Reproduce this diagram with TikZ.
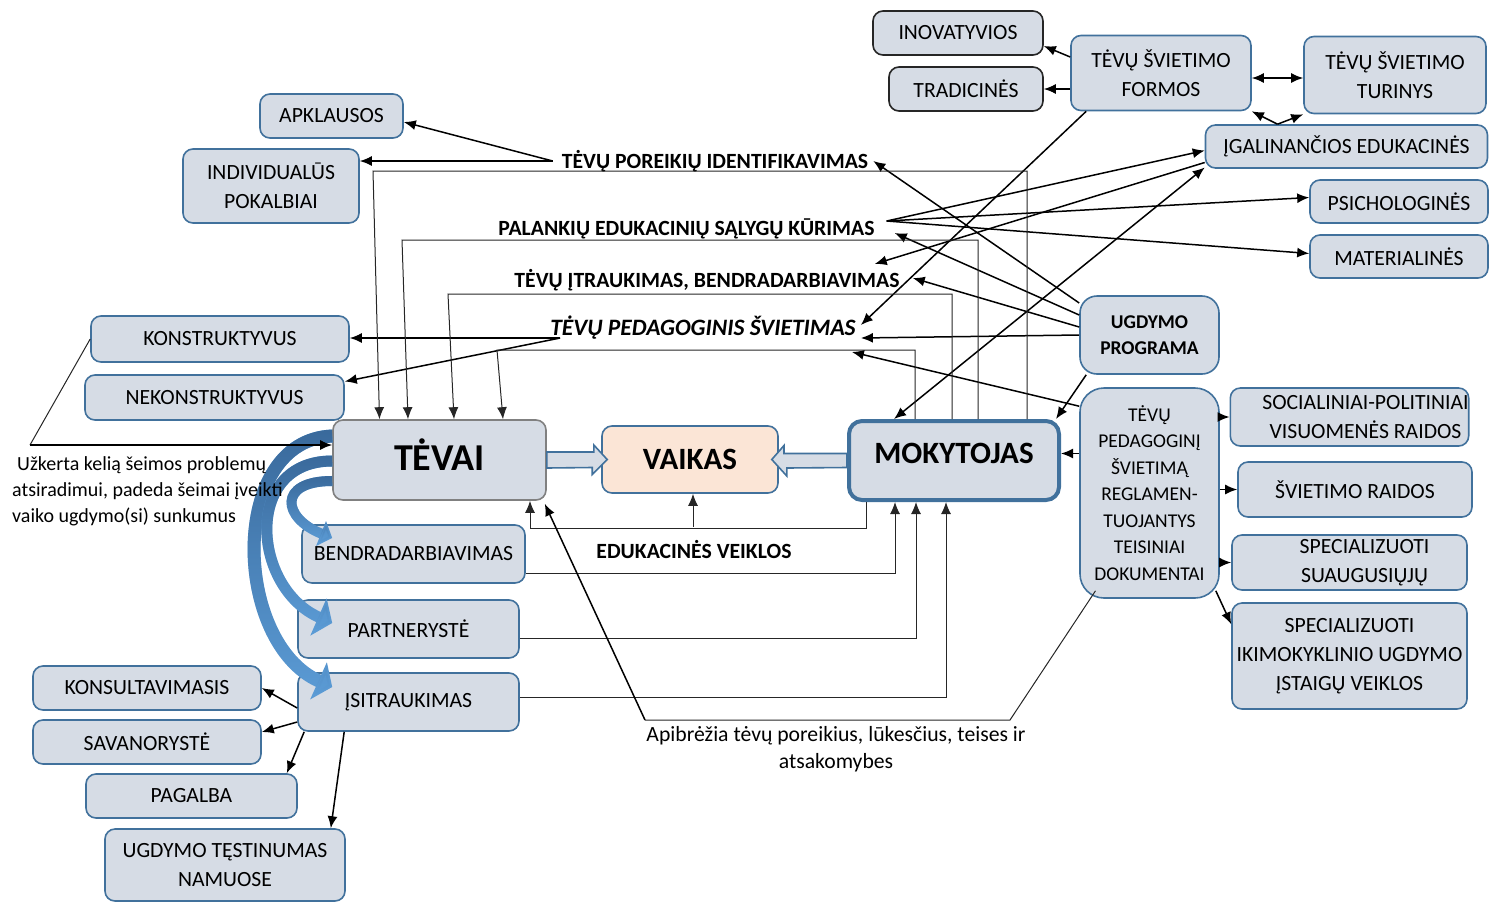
\documentclass[tikz,border=0pt]{standalone}
\usepackage{fontspec}
\setmainfont{Carlito}
\usetikzlibrary{arrows.meta,calc,fadings}

\definecolor{boxfill}{RGB}{214,220,229}
\definecolor{boxline}{RGB}{65,113,156}
\definecolor{peach}{RGB}{251,229,214}
\definecolor{curvlight}{RGB}{91,155,213}
\definecolor{curvdark}{RGB}{58,106,156}

\newcommand{\boxfont}{\fontsize{21.7}{29}\selectfont}
\newcommand{\smallboxfont}{\fontsize{19.5}{26.5}\selectfont}
\newcommand{\notefont}{\fontsize{20}{26}\selectfont}
\newcommand{\bigfont}{\fontsize{31}{34}\selectfont\bfseries}

\tikzfading[name=fadedown, top color=transparent!0, middle color=transparent!35, bottom color=transparent!100]

\tikzset{
  >={Latex[length=12pt,width=10pt]},
  box/.style={draw=boxline, fill=boxfill, line width=1.6pt, rounded corners=10pt, align=center, inner sep=0pt, font=\boxfont},
  lbl/.style={font=\boxfont\bfseries, inner sep=2pt},
  arr/.style={->, line width=1.5pt},
  dblarr/.style={<->, line width=1.5pt},
  wire/.style={line width=1pt, black!85},
  wirearr/.style={wire, ->},
  hollow/.style={draw=boxline, fill=boxfill, line width=1.6pt, line join=miter},
  curv/.style={curvlight, line cap=butt},
  curvtop/.style={curvdark, line cap=butt, path fading=fadedown},
}

\begin{document}
\begin{tikzpicture}[x=1pt,y=-1pt]
\useasboundingbox (0,0) rectangle (1489,903);

\node[box, draw=black!85, minimum width=170pt, minimum height=44pt] (inov) at (958,33) {INOVATYVIOS};
\node[box, draw=black!85, minimum width=154pt, minimum height=44pt] (trad) at (966,89) {TRADICINĖS};
\node[box, minimum width=180pt, minimum height=75pt] (formos) at (1161,73) {TĖVŲ ŠVIETIMO\\FORMOS};
\node[box, minimum width=182pt, minimum height=77pt] (turinys) at (1395,75) {TĖVŲ ŠVIETIMO\\TURINYS};
\node[box, minimum width=282pt, minimum height=43pt] (igal) at (1346.5,146.5) {ĮGALINANČIOS EDUKACINĖS};
\node[box, minimum width=178pt, minimum height=43pt] (psich) at (1399,201.5) {PSICHOLOGINĖS};
\node[box, minimum width=178pt, minimum height=43pt] (mater) at (1399,256.5) {MATERIALINĖS};

\node[box, minimum width=143pt, minimum height=44pt] (apkl) at (331.5,116) {APKLAUSOS};
\node[box, minimum width=176pt, minimum height=74pt] (indiv) at (271,186) {INDIVIDUALŪS\\POKALBIAI};
\node[box, minimum width=258pt, minimum height=46pt] (konst) at (220,339) {KONSTRUKTYVUS};
\node[box, minimum width=259pt, minimum height=45pt] (nekonst) at (214.5,397.5) {NEKONSTRUKTYVUS};

\node[box, draw=black!50, minimum width=213pt, minimum height=80pt, text depth=10pt, font=\fontsize{38}{40}\selectfont\bfseries] (tevai) at (439.5,460) {TĖVAI};
\node[box, fill=peach, minimum width=176pt, minimum height=67pt, font=\bigfont] (vaikas) at (690,459.5) {VAIKAS};
\node[box, line width=4pt, rounded corners=13pt, minimum width=210pt, minimum height=79pt, text depth=14pt, font=\bigfont] (mokyt) at (954,460.5) {MOKYTOJAS};

\node[box, font=\smallboxfont\bfseries, rounded corners=17pt, minimum width=139pt, minimum height=78pt] (ugdprog) at (1149.5,335) {UGDYMO\\PROGRAMA};
\node[box, font=\smallboxfont, rounded corners=24pt, minimum width=139pt, minimum height=210pt] (teis) at (1149.5,493) {TĖVŲ\\PEDAGOGINĮ\\ŠVIETIMĄ\\REGLAMEN-\\TUOJANTYS\\TEISINIAI\\DOKUMENTAI};
\node[box, minimum width=235pt, minimum height=58pt] (soc) at (1349.5,417) {\hspace*{32pt}SOCIALINIAI-POLITINIAI\\\hspace*{32pt}VISUOMENĖS RAIDOS};
\node[box, minimum width=234pt, minimum height=55pt] (svraid) at (1355,489.5) {ŠVIETIMO RAIDOS};
\node[box, minimum width=235pt, minimum height=55pt] (suaug) at (1349.5,562.5) {\hspace*{30pt}SPECIALIZUOTI\\\hspace*{30pt}SUAUGUSIŲJŲ};
\node[box, minimum width=235pt, minimum height=106pt] (ikimok) at (1349.5,656) {SPECIALIZUOTI\\IKIMOKYKLINIO UGDYMO\\ĮSTAIGŲ VEIKLOS};

\node[box, minimum width=223pt, minimum height=58pt] (bendr) at (413.5,554) {BENDRADARBIAVIMAS};
\node[box, minimum width=221pt, minimum height=58pt] (partn) at (408.5,629) {PARTNERYSTĖ};
\node[box, minimum width=221pt, minimum height=58pt] (isitr) at (408.5,702) {ĮSITRAUKIMAS};
\node[box, minimum width=228pt, minimum height=44pt] (konsul) at (147,688) {KONSULTAVIMASIS};
\node[box, minimum width=228pt, minimum height=44pt] (savan) at (147,742) {SAVANORYSTĖ};
\node[box, minimum width=211pt, minimum height=44pt] (pagalba) at (191.5,796) {PAGALBA};
\node[box, minimum width=240pt, minimum height=72pt] (ugdtest) at (225,865) {UGDYMO TĘSTINUMAS\\NAMUOSE};

\node[lbl] (poreik) at (715,161) {TĖVŲ POREIKIŲ IDENTIFIKAVIMAS};
\node[lbl] (palank) at (686.5,229) {PALANKIŲ EDUKACINIŲ SĄLYGŲ KŪRIMAS};
\node[lbl] (itrauk) at (707,280) {TĖVŲ ĮTRAUKIMAS, BENDRADARBIAVIMAS};
\node[lbl, font=\fontsize{23.5}{28}\selectfont\bfseries\itshape] (pedsv) at (703,328) {TĖVŲ PEDAGOGINIS ŠVIETIMAS};
\node[lbl] (edveik) at (694,549) {EDUKACINĖS VEIKLOS};
\node[font=\fontsize{21.7}{27}\selectfont, align=center, inner sep=0pt] (apibr) at (836,749) {Apibrėžia tėvų poreikius, lūkesčius, teises ir\\atsakomybes};

\coordinate (kk) at (30,445);
\coordinate (ap1) at (645,720);
\coordinate (ap2) at (1010,720);

\draw[hollow] ([yshift=8pt]tevai.east) -- ++(47,0) -- ++(0,-7) -- ([xshift=6pt]vaikas.west) -- ++(-15,15) -- ++(0,-7) -- ([yshift=-8pt]tevai.east) -- cycle;
\draw[hollow] ([yshift=7pt]mokyt.west) -- ++(-63,0) -- ++(0,-8) -- ([xshift=-7pt]vaikas.east) -- ++(15,16.5) -- ++(0,-8) -- ([yshift=-7pt]mokyt.west) -- cycle;

\draw[curv, line width=13pt, -{Triangle[length=15pt,width=40pt]}] ([yshift=24pt]tevai.west) .. controls +(-104,4) and +(-100,-45) .. ([xshift=35pt,yshift=15pt]isitr.west);
\draw[curvtop, line width=13pt, -{Triangle[length=15pt,width=40pt]}] ([yshift=24pt]tevai.west) .. controls +(-104,4) and +(-100,-45) .. ([xshift=35pt,yshift=15pt]isitr.west);
\draw[curv, line width=11pt, -{Triangle[length=15pt,width=40pt]}] ([yshift=-1pt]tevai.west) .. controls +(-90,0) and +(-80,-35) .. ([xshift=35pt,yshift=6pt]partn.west);
\draw[curvtop, line width=11pt, -{Triangle[length=15pt,width=40pt]}] ([yshift=-1pt]tevai.west) .. controls +(-90,0) and +(-80,-35) .. ([xshift=35pt,yshift=6pt]partn.west);
\draw[curv, line width=10pt, -{Triangle[length=12pt,width=26pt]}] ([yshift=-21pt]tevai.west) .. controls +(-55,0) and +(-50,-20) .. ([xshift=31pt,yshift=16pt]bendr.west);
\draw[curvtop, line width=10pt, -{Triangle[length=12pt,width=26pt]}] ([yshift=-21pt]tevai.west) .. controls +(-55,0) and +(-50,-20) .. ([xshift=31pt,yshift=16pt]bendr.west);

\node[font=\notefont, align=left, anchor=west, inner sep=0pt] (uzk) at (12,491) {\hspace*{5pt}Užkerta kelią šeimos problemų\\atsiradimui, padeda šeimai įveikti\\vaiko ugdymo(si) sunkumus};

\draw[arr] (formos.170) -- ([yshift=-13pt]inov.east);
\draw[arr] (formos.west |- trad.east) -- (trad.east);
\draw[dblarr] ($(formos.east)+(0,5)$) -- ($(formos.east -| turinys.west)+(0,5)$);
\draw[arr] ([xshift=-69pt]igal.north) -- (formos.south east);
\draw[arr] ([xshift=-69pt]igal.north) -- (turinys.south west);
\draw[arr] ([xshift=16pt]formos.south west) -- ([xshift=3pt,yshift=3pt]pedsv.east);

\coordinate (pk) at ([xshift=10pt,yshift=8pt]palank.east);
\draw[arr] (pk) -- ([yshift=-4pt]igal.west);
\draw[arr] (pk) -- ([yshift=4pt]psich.west);
\draw[arr] (pk) -- ([yshift=3pt]mater.west);
\draw[arr] ([yshift=-16pt]igal.west) -- ([xshift=-27pt,yshift=3pt]itrauk.north east);
\draw[dblarr] ([xshift=-60pt]mokyt.north) -- ([yshift=-21pt]igal.west);

\draw[arr] ([yshift=32pt]ugdprog.west) -- ([xshift=3pt]poreik.east);
\draw[arr] ([yshift=20pt]ugdprog.west) -- ([xshift=18pt,yshift=-4pt]palank.east);
\draw[arr] ([yshift=8pt]ugdprog.west) -- ([xshift=11pt,yshift=2pt]itrauk.east);
\draw[arr] (ugdprog.west) -- ([xshift=3pt,yshift=-10pt]pedsv.east);
\draw[arr] ([yshift=-19pt]teis.north west) -- ([xshift=-6pt,yshift=-24pt]pedsv.east);
\draw[arr] ([xshift=7pt]ugdprog.south west) -- ([xshift=-5pt]mokyt.north east);
\coordinate (mk) at ([yshift=7pt]mokyt.east);
\draw[arr] (mk -| teis.west) -- (mk);
\draw[arr] (teis.east |- soc.west) -- (soc.west);
\draw[arr] (teis.east |- svraid.west) -- (svraid.west);
\draw[arr] (teis.east |- suaug.west) -- (suaug.west);
\draw[arr] ([xshift=-4pt,yshift=8pt]teis.south east) -- ([yshift=-22pt]ikimok.north west);

\coordinate (pw) at ([xshift=-7pt]poreik.west);
\draw[arr] (pw) -- ([yshift=-6pt]apkl.east);
\draw[arr] (pw) -- (pw -| indiv.east);
\coordinate (ps) at ([xshift=12pt,yshift=-10pt]pedsv.west);
\draw[arr] (ps) -- (ps -| konst.east);
\draw[arr] (ps) -- ([yshift=16pt]nekonst.east);
\draw[wire] (konst.west) -- (kk);
\draw[arr] (kk) -- (kk -| tevai.west);

\draw[wirearr] (mokyt.north) ++(73,0) -- ++(0,-248) -- ++(-654,0) -- ([xshift=-60pt]tevai.north);
\draw[wirearr] (mokyt.north) ++(24,0) -- ++(0,-179) -- ++(-576,0) -- ([xshift=-31.5pt]tevai.north);
\draw[wirearr] (mokyt.north) ++(-2,0) -- ++(0,-125) -- ++(-504,0) -- ([xshift=14.5pt]tevai.north);
\draw[wirearr] (mokyt.north) ++(-39,0) -- ++(0,-69) -- ++(-418,0) -- ([xshift=63.5pt]tevai.north);

\draw[wirearr] (mokyt.south) ++(-88,0) -- ++(0,26) -| ([xshift=90.5pt]tevai.south);
\draw[wirearr] ([xshift=3pt,yshift=-33pt]vaikas.south) -- ([xshift=3pt]vaikas.south);
\draw[wirearr] ([yshift=-19pt]bendr.east) -| ([xshift=-59pt]mokyt.south);
\draw[wirearr] ([yshift=-9pt]partn.east) -| ([xshift=-38pt]mokyt.south);
\draw[wirearr] ([yshift=5pt]isitr.east) -| ([xshift=-8pt]mokyt.south);

\draw[wire] ([xshift=-54pt,yshift=8pt]teis.south) -- (ap2) -- (ap1);
\draw[arr] (ap1) -- ([xshift=-2pt,yshift=-3pt]tevai.south east);

\draw[arr] ([yshift=-6pt]isitr.west) -- (konsul.east);
\draw[arr] ([yshift=-20pt]isitr.west) -- ([yshift=10pt]savan.east);
\draw[arr] ([xshift=7pt]isitr.south west) -- ([xshift=-11pt]pagalba.north east);
\draw[arr] ([xshift=47pt]isitr.south west) -- ([xshift=-15pt]ugdtest.north east);
\end{tikzpicture}
\end{document}
